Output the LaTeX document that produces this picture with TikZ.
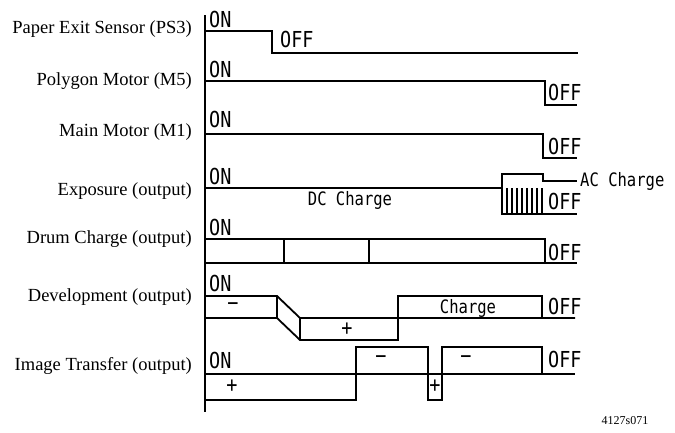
\documentclass[tikz,border=0pt]{standalone}
\usepackage{fontspec}
\setmainfont{Liberation Serif}
\newfontfamily\chartfont{DejaVu Sans Mono}[FakeStretch=0.84]

\begin{document}
\begin{tikzpicture}[
  x=1pt,y=-1pt,
  rowlabel/.style={font=\fontsize{18.5}{20}\selectfont,anchor=base east,inner sep=0pt},
  statelabel/.style={font=\chartfont\fontsize{22}{23}\selectfont,anchor=base west,inner sep=0pt},
  tracelabel/.style={font=\chartfont\fontsize{18.5}{19}\selectfont,anchor=base,inner sep=0pt},
  signlabel/.style={font=\chartfont\fontsize{22}{23}\selectfont,inner sep=0pt},
  trace/.style={line width=1.8pt,line join=miter},
  hatchline/.style={line width=1.3pt},
  timeaxis/.style={line width=2.5pt},
]
\useasboundingbox (0,0) rectangle (675,432);

% Signal names
\node[rowlabel] (nps) at (192,33) {Paper Exit Sensor (PS3)};
\node[rowlabel] (npm) at (192,85) {Polygon Motor (M5)};
\node[rowlabel] (nmm) at (192,136) {Main Motor (M1)};
\node[rowlabel] (nex) at (192,195) {Exposure (output)};
\node[rowlabel] (ndc) at (192,243) {Drum Charge (output)};
\node[rowlabel] (ndv) at (192,301) {Development (output)};
\node[rowlabel] (nit) at (192,370) {Image Transfer (output)};

% Time axis
\draw[timeaxis] (205,15) -- (205,412);

% Paper exit sensor
\draw[trace] (205,31) -- (272,31) -- (272,53) -- (578,53);
\node[statelabel] (onps) at (209,27) {ON};
\node[statelabel] (offps) at (280,47) {OFF};

% Polygon motor
\draw[trace] (205,81) -- (545,81) -- (545,105) -- (577,105);
\node[statelabel] (onpm) at (209,77) {ON};
\node[statelabel] (offpm) at (548,100) {OFF};

% Main motor
\draw[trace] (205,134) -- (543,134) -- (543,158) -- (577,158);
\node[statelabel] (onmm) at (209,127) {ON};
\node[statelabel] (offmm) at (548,154) {OFF};

% Exposure: DC charge, then AC charge
\draw[trace] (205,188) -- (502,188) -- (502,214) -- (577,214);
\draw[trace] (502,188) -- (502,174) -- (543,174) -- (543,181) -- (577,181);
\foreach \hx in {507,512,...,542}
  \draw[hatchline] (\hx,188) -- (\hx,214);
\node[statelabel] (onex) at (209,184) {ON};
\node[statelabel] (offex) at (548,209) {OFF};
\node[tracelabel] (dcex) at (350,205) {DC Charge};
\node[tracelabel,anchor=base west] (acex) at (580,186) {AC Charge};

% Drum charge
\draw[trace] (205,239) -- (545,239) -- (545,263);
\draw[trace] (205,263) -- (577,263);
\draw[trace] (284,239) -- (284,263);
\draw[trace] (369,239) -- (369,263);
\node[statelabel] (ondc) at (209,235) {ON};
\node[statelabel] (offdc) at (548,260) {OFF};

% Development bias
\draw[trace] (205,296) -- (277,296) -- (300,318) -- (575,318);
\draw[trace] (205,318) -- (277,318) -- (300,340) -- (398,340) -- (398,296) -- (542,296) -- (542,318);
\draw[trace] (277,296) -- (277,318);
\draw[trace] (300,318) -- (300,340);
\node[statelabel] (ondv) at (209,291) {ON};
\node[statelabel] (offdv) at (548,314) {OFF};
\node[signlabel] (mdv) at (233,307) {−};
\node[signlabel] (pdv) at (347,329) {+};
\node[tracelabel] (chdv) at (468,313) {Charge};

% Image transfer
\draw[trace] (205,374) -- (575,374);
\draw[trace] (205,400) -- (356,400) -- (356,347) -- (428,347) -- (428,400)
  -- (442,400) -- (442,347) -- (542,347) -- (542,374);
\node[statelabel] (onit) at (209,368) {ON};
\node[statelabel] (offit) at (548,367) {OFF};
\node[signlabel] (pita) at (232,386) {+};
\node[signlabel] (mita) at (381,360) {−};
\node[signlabel] (pitb) at (435,386) {+};
\node[signlabel] (mitb) at (466,360) {−};

% Figure number
\node[font=\fontsize{12}{14}\selectfont,inner sep=0pt] (fig) at (625,421) {4127s071};

\end{tikzpicture}
\end{document}
